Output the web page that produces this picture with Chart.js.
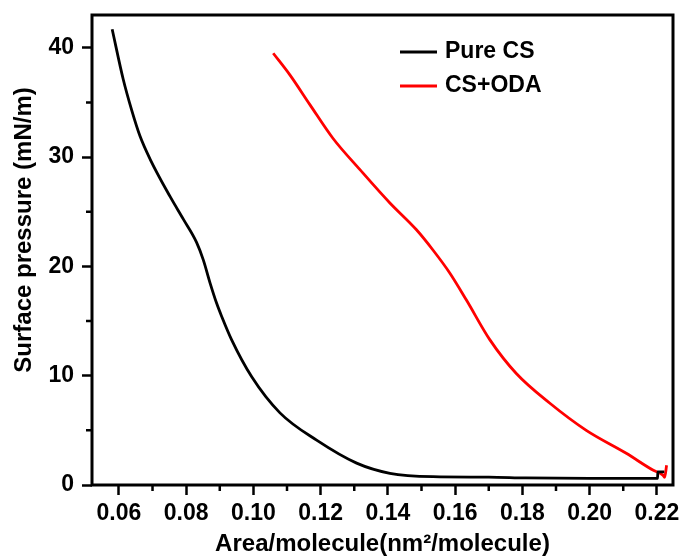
<!DOCTYPE html>
<html>
<head>
<meta charset="utf-8">
<script src="https://cdn.jsdelivr.net/npm/chart.js@4/dist/chart.umd.min.js"></script>
<style>
  body { margin: 0; background: #fff; }
  canvas { display: block; }
</style>
</head>
<body>
<canvas id="myChart" width="687" height="560"></canvas>
<script>
//isotherm data
const pureCsArea = [0.0580, 0.0613, 0.0638, 0.0663, 0.0693, 0.0752, 0.0792, 0.0831, 0.0851, 0.0871, 0.0891, 0.0906, 0.0935, 0.0995, 0.1079, 0.1188, 0.1307, 0.1406, 0.1534, 0.1700, 0.1810, 0.2000, 0.2202, 0.2203, 0.2222];
const pureCsPressure = [41.7, 37.1, 34.3, 31.9, 29.8, 26.4, 24.3, 22.2, 20.6, 18.5, 16.6, 15.4, 13.3, 9.9, 6.6, 4.1, 2.0, 1.07, 0.76, 0.72, 0.65, 0.6, 0.6, 1.2, 1.2];

const csOdaArea = [0.1059, 0.1109, 0.1168, 0.1237, 0.1317, 0.1406, 0.1485, 0.1534, 0.1584, 0.1634, 0.1703, 0.1782, 0.1881, 0.1990, 0.2109, 0.2188, 0.2218, 0.2223, 0.2229];
const csOdaPressure = [39.5, 37.5, 34.8, 31.7, 28.85, 25.8, 23.35, 21.5, 19.4, 16.9, 13.3, 10.2, 7.5, 5.0, 2.9, 1.37, 0.9, 0.7, 1.8];

const seriesLabels = ["Pure CS", "CS+ODA"];
const seriesColors = ["#000000", "#ff0000"];

//axis ranges and tick steps
const xMin = 0.052, xMax = 0.2248, xStep = 0.02;
const yMin = 0, yMax = 43, yStep = 10;

function toPoints(xs, ys) {
  return xs.map((v, i) => ({ x: v, y: ys[i] }));
}

const fontFamily = "'Liberation Sans', Arial, sans-serif";

//frame round the plot, minor ticks and the legend inside the box
const framePlugin = {
  id: 'framePlugin',
  afterDraw(chart) {
    const { ctx, chartArea: a, scales } = chart;
    ctx.save();
    ctx.strokeStyle = '#000';
    ctx.lineWidth = 3;
    ctx.strokeRect(a.left, a.top, a.right - a.left, a.bottom - a.top);

    //minor ticks halfway between the major ones
    ctx.lineWidth = 2.5;
    ctx.beginPath();
    const xt = scales.x.ticks;
    for (let i = 0; i < xt.length - 1; i++) {
      const px = scales.x.getPixelForValue((xt[i].value + xt[i + 1].value) / 2);
      ctx.moveTo(px, a.bottom);
      ctx.lineTo(px, a.bottom + 6);
    }
    const yt = scales.y.ticks;
    for (let i = 0; i < yt.length; i++) {
      const v = yt[i].value + yStep / 2;
      if (v > yMax) continue;
      const py = scales.y.getPixelForValue(v);
      ctx.moveTo(a.left, py);
      ctx.lineTo(a.left - 6, py);
    }
    ctx.stroke();

    //legend
    ctx.font = "bold 23px " + fontFamily;
    ctx.textBaseline = 'middle';
    ctx.textAlign = 'left';
    chart.data.datasets.forEach((ds, i) => {
      const ly = a.top + 37 + i * 34;
      const lx = a.left + 308;
      ctx.strokeStyle = ds.borderColor;
      ctx.lineWidth = 3;
      ctx.beginPath();
      ctx.moveTo(lx, ly);
      ctx.lineTo(lx + 37, ly);
      ctx.stroke();
      ctx.fillStyle = '#000';
      ctx.fillText(ds.label, lx + 45, ly);
    });
    ctx.restore();
  }
};

var ctx = document.getElementById("myChart").getContext("2d");

var myChart = new Chart(ctx, {
  type: 'line',
  data: {
    datasets: [
      {
        label: seriesLabels[0],
        data: toPoints(pureCsArea, pureCsPressure),
        borderColor: seriesColors[0],
        borderWidth: 2.8,
        pointRadius: 0,
        cubicInterpolationMode: 'monotone'
      },
      {
        label: seriesLabels[1],
        data: toPoints(csOdaArea, csOdaPressure),
        borderColor: seriesColors[1],
        borderWidth: 2.8,
        pointRadius: 0,
        cubicInterpolationMode: 'monotone'
      }
    ]
  },
  options: {
    responsive: false,
    animation: false,
    layout: { padding: { top: 15, right: 14, left: 0, bottom: 0 } },
    plugins: {
      legend: { display: false },
      tooltip: { enabled: false }
    },
    scales: {
      x: {
        type: 'linear',
        min: xMin,
        max: xMax,
        afterFit: (scale) => {
          scale.height = 75;
          scale.paddingLeft = 0;
          scale.paddingRight = 0;
        },
        border: { display: false },
        grid: { drawOnChartArea: false, drawTicks: true, tickLength: 10, tickWidth: 2.5, tickColor: '#000' },
        ticks: {
          stepSize: xStep,
          includeBounds: false,
          padding: 5,
          color: '#000',
          font: { family: fontFamily, size: 23, weight: 'bold' },
          callback: (v) => v.toFixed(2)
        },
        title: {
          display: true,
          text: 'Area/molecule(nm²/molecule)',
          color: '#000',
          font: { family: fontFamily, size: 24, weight: 'bold', lineHeight: 1.2 },
          padding: { top: 0, bottom: 1 }
        }
      },
      y: {
        type: 'linear',
        min: yMin,
        max: yMax,
        afterFit: (scale) => {
          scale.width = 92;
          scale.paddingTop = 0;
          scale.paddingBottom = 0;
        },
        border: { display: false },
        grid: { drawOnChartArea: false, drawTicks: true, tickLength: 10, tickWidth: 2.5, tickColor: '#000' },
        ticks: {
          stepSize: yStep,
          includeBounds: false,
          padding: 8,
          color: '#000',
          font: { family: fontFamily, size: 23, weight: 'bold' }
        },
        title: {
          display: true,
          //leading spaces push the rotated title up a little, as in the original
          text: '      Surface pressure (mN/m)',
          color: '#000',
          font: { family: fontFamily, size: 24, weight: 'bold', lineHeight: 1.2 },
          padding: { top: 10, bottom: 0 }
        }
      }
    }
  },
  plugins: [framePlugin]
});
</script>
</body>
</html>
